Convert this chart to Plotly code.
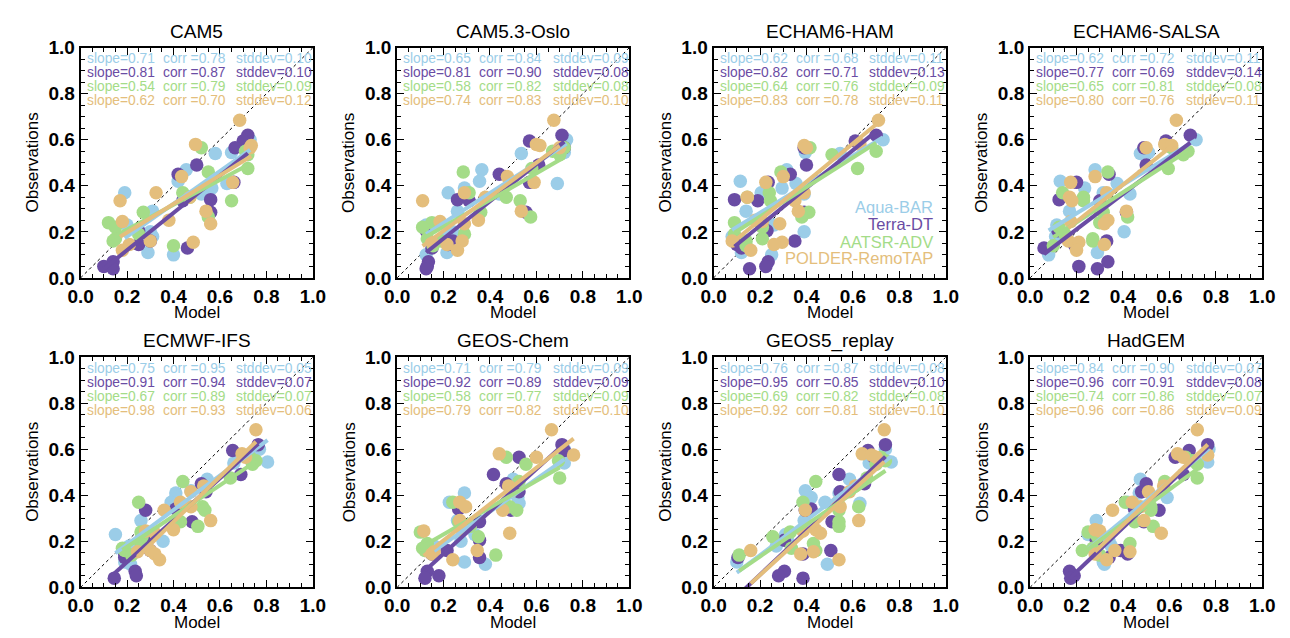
import plotly.graph_objects as go
import numpy as np

PANELS = ["CAM5", "CAM5.3-Oslo", "ECHAM6-HAM", "ECHAM6-SALSA",
          "ECMWF-IFS", "GEOS-Chem", "GEOS5_replay", "HadGEM"]
SERIES = ["Aqua-BAR", "Terra-DT", "AATSR-ADV", "POLDER-RemoTAP"]
COLORS = ["#9BCDE8", "#6A4CA4", "#A4DC88", "#E4BE7C"]
TICKS = [0.0, 0.2, 0.4, 0.6, 0.8, 1.0]

# Observations (same sites in every panel), per satellite product
OBS_AQUA = [0.60, 0.545, 0.54, 0.47, 0.42, 0.41, 0.39, 0.37, 0.365, 0.29, 0.23, 0.20, 0.18, 0.11, 0.10]
OBS_TERRA = [0.62, 0.595, 0.565, 0.49, 0.45, 0.415, 0.34, 0.335, 0.285, 0.205, 0.16, 0.145, 0.13, 0.07, 0.05, 0.04]
OBS_AATSR = [0.565, 0.55, 0.535, 0.475, 0.46, 0.37, 0.35, 0.335, 0.285, 0.265, 0.24, 0.22, 0.19, 0.17, 0.16, 0.14]
OBS_POLDER = [0.685, 0.58, 0.575, 0.565, 0.44, 0.415, 0.37, 0.35, 0.335, 0.29, 0.25, 0.245, 0.235, 0.16, 0.155, 0.145, 0.12]

# Model values (x) per panel, aligned with the observation lists
CAM5_AQUA = [0.73, 0.65, 0.58, 0.455, 0.42, 0.63, 0.565, 0.19, 0.52, 0.31, 0.20, 0.30, 0.31, 0.29, 0.40]
CAM5_TERRA = [0.72, 0.70, 0.665, 0.50, 0.42, 0.66, 0.56, 0.44, 0.56, 0.25, 0.30, 0.25, 0.46, 0.14, 0.10, 0.14]
CAM5_AATSR = [0.52, 0.71, 0.72, 0.72, 0.55, 0.44, 0.47, 0.65, 0.27, 0.55, 0.12, 0.15, 0.25, 0.15, 0.14, 0.40]
CAM5_POLDER = [0.685, 0.495, 0.735, 0.73, 0.435, 0.655, 0.325, 0.47, 0.17, 0.54, 0.38, 0.18, 0.56, 0.30, 0.485, 0.21, 0.18]

OSLO_AQUA = [0.73, 0.72, 0.535, 0.365, 0.355, 0.69, 0.29, 0.22, 0.44, 0.26, 0.125, 0.24, 0.21, 0.215, 0.125]
OSLO_TERRA = [0.71, 0.57, 0.72, 0.61, 0.44, 0.57, 0.26, 0.31, 0.555, 0.125, 0.24, 0.22, 0.15, 0.135, 0.13, 0.125]
OSLO_AATSR = [0.72, 0.67, 0.70, 0.58, 0.285, 0.31, 0.47, 0.53, 0.36, 0.575, 0.15, 0.11, 0.29, 0.13, 0.19, 0.155]
OSLO_POLDER = [0.675, 0.60, 0.615, 0.70, 0.475, 0.59, 0.29, 0.38, 0.11, 0.535, 0.35, 0.185, 0.29, 0.28, 0.15, 0.215, 0.26]

HAM_AQUA = [0.73, 0.395, 0.545, 0.315, 0.115, 0.355, 0.295, 0.205, 0.39, 0.14, 0.26, 0.39, 0.08, 0.12, 0.25]
HAM_TERRA = [0.70, 0.61, 0.39, 0.40, 0.33, 0.235, 0.09, 0.19, 0.39, 0.23, 0.35, 0.10, 0.12, 0.235, 0.225, 0.155]
HAM_AATSR = [0.415, 0.70, 0.51, 0.62, 0.29, 0.24, 0.145, 0.245, 0.41, 0.38, 0.09, 0.21, 0.09, 0.21, 0.14, 0.14]
HAM_POLDER = [0.71, 0.63, 0.39, 0.40, 0.30, 0.225, 0.39, 0.145, 0.35, 0.365, 0.18, 0.21, 0.285, 0.08, 0.295, 0.26, 0.16]

SALSA_AQUA = [0.715, 0.51, 0.475, 0.28, 0.13, 0.375, 0.235, 0.315, 0.43, 0.17, 0.115, 0.405, 0.11, 0.29, 0.08]
SALSA_TERRA = [0.69, 0.585, 0.49, 0.50, 0.34, 0.20, 0.125, 0.30, 0.415, 0.12, 0.33, 0.19, 0.06, 0.335, 0.21, 0.29]
SALSA_AATSR = [0.61, 0.68, 0.66, 0.595, 0.335, 0.14, 0.23, 0.23, 0.315, 0.42, 0.30, 0.125, 0.15, 0.27, 0.27, 0.10]
SALSA_POLDER = [0.63, 0.58, 0.61, 0.50, 0.28, 0.175, 0.33, 0.17, 0.18, 0.415, 0.335, 0.175, 0.32, 0.165, 0.21, 0.32, 0.20]

IFS_AQUA = [0.77, 0.805, 0.66, 0.545, 0.475, 0.41, 0.41, 0.39, 0.395, 0.26, 0.15, 0.355, 0.21, 0.19, 0.215]
IFS_TERRA = [0.765, 0.655, 0.72, 0.69, 0.52, 0.54, 0.41, 0.28, 0.48, 0.285, 0.30, 0.19, 0.19, 0.235, 0.24, 0.145]
IFS_AATSR = [0.73, 0.755, 0.74, 0.645, 0.44, 0.25, 0.525, 0.535, 0.43, 0.505, 0.26, 0.265, 0.26, 0.18, 0.19, 0.22]
IFS_POLDER = [0.755, 0.695, 0.70, 0.71, 0.53, 0.475, 0.43, 0.475, 0.36, 0.56, 0.40, 0.28, 0.32, 0.30, 0.245, 0.32, 0.34]

GCHEM_AQUA = [0.72, 0.715, 0.72, 0.50, 0.49, 0.29, 0.52, 0.225, 0.525, 0.26, 0.335, 0.275, 0.16, 0.29, 0.38]
GCHEM_TERRA = [0.71, 0.72, 0.525, 0.415, 0.47, 0.525, 0.265, 0.49, 0.355, 0.355, 0.215, 0.15, 0.355, 0.13, 0.18, 0.12]
GCHEM_AATSR = [0.47, 0.695, 0.555, 0.70, 0.525, 0.24, 0.485, 0.515, 0.265, 0.315, 0.10, 0.35, 0.13, 0.11, 0.12, 0.425]
GCHEM_POLDER = [0.665, 0.44, 0.76, 0.60, 0.48, 0.49, 0.27, 0.295, 0.455, 0.27, 0.28, 0.115, 0.485, 0.345, 0.16, 0.15, 0.24]

GEOS5_AQUA = [0.74, 0.765, 0.67, 0.585, 0.395, 0.54, 0.42, 0.48, 0.63, 0.39, 0.31, 0.32, 0.27, 0.10, 0.49]
GEOS5_TERRA = [0.74, 0.665, 0.69, 0.54, 0.65, 0.545, 0.42, 0.395, 0.51, 0.305, 0.505, 0.385, 0.105, 0.305, 0.28, 0.385]
GEOS5_AATSR = [0.72, 0.74, 0.70, 0.66, 0.44, 0.385, 0.625, 0.54, 0.54, 0.54, 0.33, 0.255, 0.43, 0.335, 0.44, 0.11]
GEOS5_POLDER = [0.735, 0.64, 0.68, 0.70, 0.61, 0.585, 0.535, 0.545, 0.395, 0.625, 0.44, 0.385, 0.46, 0.16, 0.43, 0.375, 0.54]

HADGEM_AQUA = [0.77, 0.765, 0.72, 0.475, 0.50, 0.47, 0.59, 0.42, 0.43, 0.285, 0.25, 0.34, 0.35, 0.315, 0.32]
HADGEM_TERRA = [0.765, 0.685, 0.625, 0.66, 0.50, 0.48, 0.45, 0.555, 0.49, 0.285, 0.39, 0.42, 0.34, 0.17, 0.19, 0.175]
HADGEM_AATSR = [0.67, 0.70, 0.72, 0.72, 0.58, 0.41, 0.52, 0.52, 0.45, 0.53, 0.25, 0.29, 0.43, 0.27, 0.225, 0.30]
HADGEM_POLDER = [0.72, 0.635, 0.765, 0.66, 0.575, 0.51, 0.44, 0.475, 0.355, 0.49, 0.28, 0.30, 0.565, 0.365, 0.43, 0.28, 0.33]

# Statistics printed in each panel (order of PANELS)
SLOPE_AQUA = [0.71, 0.65, 0.62, 0.62, 0.75, 0.71, 0.76, 0.84]
SLOPE_TERRA = [0.81, 0.81, 0.82, 0.77, 0.91, 0.92, 0.95, 0.96]
SLOPE_AATSR = [0.54, 0.58, 0.64, 0.65, 0.67, 0.58, 0.69, 0.74]
SLOPE_POLDER = [0.62, 0.74, 0.83, 0.80, 0.98, 0.79, 0.92, 0.96]
CORR_AQUA = [0.78, 0.84, 0.68, 0.72, 0.95, 0.79, 0.87, 0.90]
CORR_TERRA = [0.87, 0.90, 0.71, 0.69, 0.94, 0.89, 0.85, 0.91]
CORR_AATSR = [0.79, 0.82, 0.76, 0.81, 0.89, 0.77, 0.82, 0.86]
CORR_POLDER = [0.70, 0.83, 0.78, 0.76, 0.93, 0.82, 0.81, 0.86]
STD_AQUA = [0.10, 0.09, 0.11, 0.11, 0.05, 0.09, 0.08, 0.07]
STD_TERRA = [0.10, 0.08, 0.13, 0.14, 0.07, 0.09, 0.10, 0.08]
STD_AATSR = [0.09, 0.08, 0.09, 0.08, 0.07, 0.09, 0.08, 0.07]
STD_POLDER = [0.12, 0.10, 0.11, 0.11, 0.06, 0.10, 0.10, 0.09]

OBS = [OBS_AQUA, OBS_TERRA, OBS_AATSR, OBS_POLDER]
MODEL = [
    [CAM5_AQUA, CAM5_TERRA, CAM5_AATSR, CAM5_POLDER],
    [OSLO_AQUA, OSLO_TERRA, OSLO_AATSR, OSLO_POLDER],
    [HAM_AQUA, HAM_TERRA, HAM_AATSR, HAM_POLDER],
    [SALSA_AQUA, SALSA_TERRA, SALSA_AATSR, SALSA_POLDER],
    [IFS_AQUA, IFS_TERRA, IFS_AATSR, IFS_POLDER],
    [GCHEM_AQUA, GCHEM_TERRA, GCHEM_AATSR, GCHEM_POLDER],
    [GEOS5_AQUA, GEOS5_TERRA, GEOS5_AATSR, GEOS5_POLDER],
    [HADGEM_AQUA, HADGEM_TERRA, HADGEM_AATSR, HADGEM_POLDER],
]
SLOPES = [SLOPE_AQUA, SLOPE_TERRA, SLOPE_AATSR, SLOPE_POLDER]
CORRS = [CORR_AQUA, CORR_TERRA, CORR_AATSR, CORR_POLDER]
STDS = [STD_AQUA, STD_TERRA, STD_AATSR, STD_POLDER]

W, H = 1290, 638
FONT = "Liberation Sans, Arial, Helvetica, sans-serif"
COL_LEFT = [69, 392, 715, 1038]
ROW_TOP = [39, 359]
BOX_W, BOX_H = 237, 238

fig = go.Figure()
layout = dict(width=W, height=H, margin=dict(l=0, r=0, t=0, b=0),
              paper_bgcolor="white", plot_bgcolor="white", showlegend=False,
              font=dict(family=FONT, color="black"))
annotations = []

for i, name in enumerate(PANELS):
    r, c = divmod(i, 4)
    left, top = COL_LEFT[c], ROW_TOP[r]
    sfx = "" if i == 0 else str(i + 1)
    xa, ya = "x" + sfx, "y" + sfx
    axis_common = dict(
        range=[0, 1], showgrid=False, zeroline=False, showline=True,
        linecolor="black", linewidth=2, mirror="allticks",
        ticks="inside", ticklen=7, tickwidth=1.4, tickcolor="black",
        tickmode="array", tickvals=TICKS, ticktext=[f"{t:.1f}" for t in TICKS],
        tickfont=dict(family=FONT, size=19, color="black", weight="bold"),
        minor=dict(dtick=0.05, tick0=0, ticks="inside", ticklen=4,
                   tickwidth=1.1, tickcolor="black"),
        fixedrange=True,
    )
    layout["xaxis" + sfx] = dict(axis_common, domain=[left / W, (left + BOX_W) / W], anchor=ya)
    layout["yaxis" + sfx] = dict(axis_common, domain=[1 - (top + BOX_H) / H, 1 - top / H], anchor=xa)

    # 1:1 line
    fig.add_trace(go.Scatter(x=[0, 1], y=[0, 1], mode="lines", xaxis=xa, yaxis=ya,
                             line=dict(color="black", width=1, dash="3px,3px"),
                             hoverinfo="skip"))
    # points
    for s in range(4):
        fig.add_trace(go.Scatter(x=MODEL[i][s], y=OBS[s], mode="markers",
                                 xaxis=xa, yaxis=ya, name=SERIES[s],
                                 marker=dict(color=COLORS[s], size=13.5, line=dict(width=0))))
    # regression lines with the printed slope through the centroid
    for s in range(4):
        xs = np.array(MODEL[i][s]); ys = np.array(OBS[s])
        k = SLOPES[s][i]
        b = ys.mean() - k * xs.mean()
        xl = np.array([xs.min(), xs.max()])
        fig.add_trace(go.Scatter(x=xl, y=k * xl + b, mode="lines", xaxis=xa, yaxis=ya,
                                 line=dict(color=COLORS[s], width=4), hoverinfo="skip"))

    # stats text
    for s in range(4):
        yrow = 0.951 - 0.0605 * s
        for xt, txt in [(0.017, f"slope={SLOPES[s][i]:.2f}"),
                        (0.346, f"corr ={CORRS[s][i]:.2f}"),
                        (0.662, f"stddev={STDS[s][i]:.2f}")]:
            annotations.append(dict(x=xt, y=yrow, xref=xa, yref=ya, text=txt,
                                    showarrow=False, xanchor="left", yanchor="middle",
                                    font=dict(family=FONT, size=13.8, color=COLORS[s])))

    cx = (left + BOX_W / 2) / W
    annotations.append(dict(x=cx, y=1 - (top - 17) / H, xref="paper", yref="paper",
                            text=name, showarrow=False, xanchor="center", yanchor="middle",
                            font=dict(family=FONT, size=19, color="black")))
    annotations.append(dict(x=cx, y=1 - (top + BOX_H + 36) / H, xref="paper", yref="paper",
                            text="Model", showarrow=False, xanchor="center", yanchor="middle",
                            font=dict(family=FONT, size=17, color="black")))
    annotations.append(dict(x=(left - 49) / W, y=1 - (top + BOX_H / 2) / H, xref="paper",
                            yref="paper", text="Observations", showarrow=False, textangle=-90,
                            xanchor="center", yanchor="middle",
                            font=dict(family=FONT, size=17, color="black")))

# legend inside ECHAM6-HAM panel
for s, yl in enumerate([0.31, 0.232, 0.158, 0.085]):
    annotations.append(dict(x=0.955, y=yl, xref="x3", yref="y3", text=SERIES[s],
                            showarrow=False, xanchor="right", yanchor="middle",
                            font=dict(family=FONT, size=16.5, color=COLORS[s])))

layout["annotations"] = annotations
fig.update_layout(**layout)
fig.write_html("out.html")
